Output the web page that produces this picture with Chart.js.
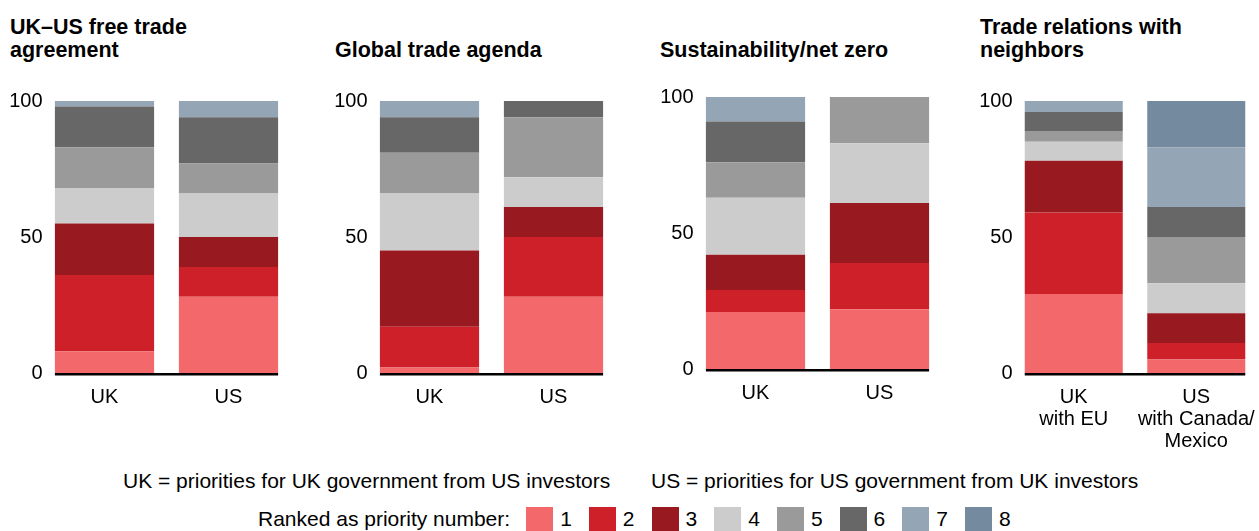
<!DOCTYPE html>
<html>
<head>
<meta charset="utf-8">
<script src="https://cdn.jsdelivr.net/npm/chart.js@4.4.1/dist/chart.umd.min.js"></script>
<style>
  body {
    margin: 0;
    width: 1259px;
    height: 531px;
    overflow: hidden;
    background: #fff;
    color: #000;
    font-family: "Liberation Sans", Arial, sans-serif;
    position: relative;
  }
  .title {
    position: absolute;
    bottom: 469px;
    font-weight: bold;
    font-size: 21.5px;
    line-height: 23px;
  }
  canvas { position: absolute; }
  .note {
    position: absolute;
    top: 469px;
    font-size: 21px;
    line-height: 24px;
    white-space: nowrap;
  }
  #legend {
    position: absolute;
    top: 507px;
    left: 258px;
    height: 24px;
    display: flex;
    align-items: center;
    font-size: 21px;
    white-space: nowrap;
  }
  #legend .lab { margin-right: 16px; }
  #legend .sw { width: 27px; height: 24px; margin-right: 7px; }
  #legend .num { margin-right: 17px; }
</style>
</head>
<body>
<div class="title" style="left:10px">UK–US free trade<br>agreement</div>
<div class="title" style="left:335px">Global trade agenda</div>
<div class="title" style="left:660px">Sustainability/net zero</div>
<div class="title" style="left:980px">Trade relations with<br>neighbors</div>

<canvas id="chartFta" width="302" height="378" style="left:-2px;top:85px"></canvas>
<canvas id="chartAgenda" width="302" height="378" style="left:323px;top:85px"></canvas>
<canvas id="chartNetZero" width="302" height="378" style="left:649px;top:81px"></canvas>
<canvas id="chartNeighbors" width="302" height="378" style="left:968px;top:85px"></canvas>

<div class="note" style="left:123px">UK = priorities for UK government from US investors</div>
<div class="note" style="left:651px">US = priorities for US government from UK investors</div>
<div id="legend"><span class="lab">Ranked as priority number:</span></div>

<script>
const ranks = ["1", "2", "3", "4", "5", "6", "7", "8"];
const rankColors = ["#f2686b", "#cd2028", "#98191f", "#cccccc", "#9a9a9a", "#676767", "#94a5b5", "#738a9f"];

const basicLabels = ["UK", "US"];
const neighborLabels = [["UK", "with EU"], ["US", "with Canada/", "Mexico"]];
const yTicks = [0, 50, 100];

// share of respondents (%) per rank, rank 1 first
const ftaUK = [8, 28, 19, 13, 15, 15, 2, 0];
const ftaUS = [28, 11, 11, 16, 11, 17, 6, 0];
const agendaUK = [2, 15, 28, 21, 15, 13, 6, 0];
const agendaUS = [28, 22, 11, 11, 22, 6, 0, 0];
const netZeroUK = [21, 8, 13, 21, 13, 15, 9, 0];
const netZeroUS = [22, 17, 22, 22, 17, 0, 0, 0];
const neighborsUK = [29, 30, 19, 7, 4, 7, 4, 0];
const neighborsUS = [5, 6, 11, 11, 17, 11, 22, 17];

const fuente = "'Liberation Sans', Arial, sans-serif";

const lineaBase = {
  id: "lineaBase",
  afterDatasetsDraw(chart) {
    const bars = chart.getDatasetMeta(0).data;
    const first = bars[0];
    const last = bars[bars.length - 1];
    const left = first.x - first.width / 2;
    const right = last.x + last.width / 2;
    const y0 = chart.scales.y.getPixelForValue(0);
    const ctx = chart.ctx;
    ctx.save();
    ctx.fillStyle = "#000";
    ctx.fillRect(left, y0, right - left, 2.5);
    ctx.restore();
  },
};

function crearGrafico(canvasId, labels, uk, us) {
  const datasets = ranks.map((rank, i) => ({
    label: rank,
    data: [uk[i], us[i]],
    backgroundColor: rankColors[i],
    borderWidth: 0,
    barPercentage: 0.8,
    categoryPercentage: 1,
  }));

  new Chart(document.getElementById(canvasId), {
    type: "bar",
    data: { labels, datasets },
    options: {
      responsive: false,
      animation: false,
      layout: { padding: { top: 16, right: 9.5, bottom: 0, left: 0 } },
      plugins: {
        legend: { display: false },
        tooltip: { enabled: false },
      },
      scales: {
        x: {
          stacked: true,
          grid: { display: false, drawTicks: false },
          border: { display: false },
          ticks: {
            color: "#000",
            font: { size: 20, family: fuente, lineHeight: 1.1 },
            padding: 13,
            maxRotation: 0,
            autoSkip: false,
          },
          afterFit(scale) {
            scale.height = 90;
          },
        },
        y: {
          stacked: true,
          min: 0,
          max: 100,
          afterBuildTicks(scale) {
            scale.ticks = yTicks.map((v) => ({ value: v }));
          },
          grid: { display: false, drawTicks: false },
          border: { display: false },
          ticks: {
            color: "#000",
            font: { size: 20, family: fuente },
            padding: 0,
          },
          afterFit(scale) {
            scale.width = 44.5;
          },
        },
      },
    },
    plugins: [lineaBase],
  });
}

crearGrafico("chartFta", basicLabels, ftaUK, ftaUS);
crearGrafico("chartAgenda", basicLabels, agendaUK, agendaUS);
crearGrafico("chartNetZero", basicLabels, netZeroUK, netZeroUS);
crearGrafico("chartNeighbors", neighborLabels, neighborsUK, neighborsUS);

const legend = document.getElementById("legend");
ranks.forEach((rank, i) => {
  const sw = document.createElement("span");
  sw.className = "sw";
  sw.style.background = rankColors[i];
  const num = document.createElement("span");
  num.className = "num";
  num.textContent = rank;
  legend.appendChild(sw);
  legend.appendChild(num);
});
</script>
</body>
</html>
